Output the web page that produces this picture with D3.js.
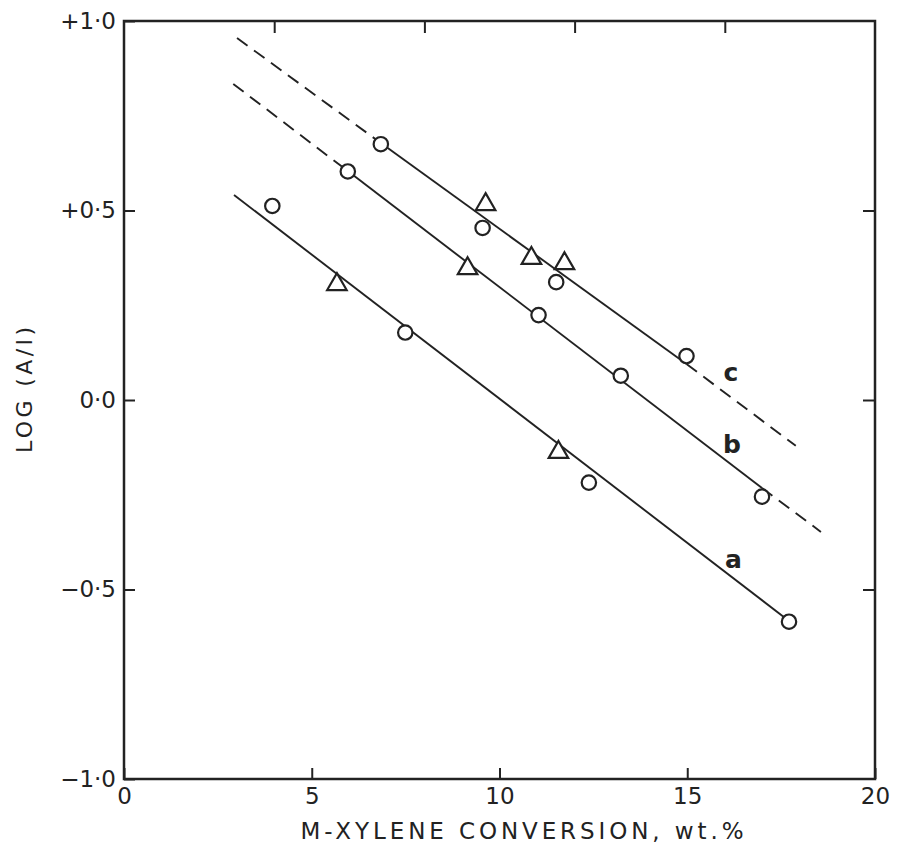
<!DOCTYPE html>
<html lang="en">
<head>
	<meta charset="utf-8">
	<style type="text/css">
		body {
			margin: 0;
			background: white;
		}
		text {
			font-family: "DejaVu Sans", sans-serif;
			fill: #222;
		}
		.tick line {
			stroke: #222;
			stroke-width: 2;
		}
	</style>
</head>
<body>
<script src="https://d3js.org/d3.v7.min.js" type="text/javascript"></script>
<script type="text/javascript">
// values
var xTicks = [0, 5, 10, 15, 20];
var xTopTicks = [4, 8, 12, 16];
var yTicks = [1, 0.5, 0, -0.5, -1];
var yRightTicks = [0.5, 0, -0.5];

// series a
var aCircleX = [3.95, 7.49, 12.38, 17.71];
var aCircleY = [0.512, 0.178, -0.218, -0.585];
var aTriX = [5.67, 11.57];
var aTriY = [0.305, -0.138];
var aLineX = [2.93, 17.71];
var aLineY = [0.541, -0.583];

// series b
var bCircleX = [5.96, 11.04, 13.23, 16.99];
var bCircleY = [0.603, 0.224, 0.064, -0.255];
var bTriX = [9.15];
var bTriY = [0.347];
var bLineX = [2.91, 5.96, 16.99, 18.56];
var bLineY = [0.834, 0.604, -0.232, -0.348];

// series c
var cCircleX = [6.84, 9.55, 11.51, 14.98];
var cCircleY = [0.675, 0.454, 0.311, 0.116];
var cTriX = [9.63, 10.85, 11.73];
var cTriY = [0.516, 0.374, 0.360];
var cLineX = [3.01, 6.84, 14.98, 17.89];
var cLineY = [0.955, 0.678, 0.095, -0.121];

var curveNames = ["a", "b", "c"];
var curveLabelX = [16.23, 16.19, 16.16];
var curveLabelY = [-0.443, -0.140, 0.050];

var width = 898, height = 849;
var ink = "#222";

var svg = d3.select("body")
	.append("svg")
	.attr("width", width)
	.attr("height", height);

var x = d3.scaleLinear().domain([0, 20]).range([124, 875]);
var y = d3.scaleLinear().domain([-1, 1]).range([779, 21]);

function fmt(v) {
	var s = Math.abs(v).toFixed(1).replace(".", "\u00b7");
	if (v > 0) return "+" + s;
	if (v < 0) return "\u2212" + s;
	return s;
}

// axes (ticks point inwards)
var gx = svg.append("g")
	.attr("transform", "translate(0," + y(-1) + ")")
	.call(d3.axisBottom(x).tickValues(xTicks).tickSizeInner(-11).tickSizeOuter(0).tickPadding(9).tickFormat(d3.format("d")));
gx.selectAll("text").style("font-size", "23px");

var gxt = svg.append("g")
	.attr("transform", "translate(0," + y(1) + ")")
	.call(d3.axisTop(x).tickValues(xTopTicks).tickSizeInner(-12).tickSizeOuter(0).tickFormat(""));

var gy = svg.append("g")
	.attr("transform", "translate(" + x(0) + ",0)")
	.call(d3.axisLeft(y).tickValues(yTicks).tickSizeInner(-11).tickSizeOuter(0).tickPadding(8).tickFormat(fmt));
gy.selectAll("text").style("font-size", "23px");

var gyr = svg.append("g")
	.attr("transform", "translate(" + x(20) + ",0)")
	.call(d3.axisRight(y).tickValues(yRightTicks).tickSizeInner(-12).tickSizeOuter(0).tickFormat(""));

svg.selectAll(".domain").remove();

// frame
svg.append("rect")
	.attr("x", x(0))
	.attr("y", y(1))
	.attr("width", x(20) - x(0))
	.attr("height", y(-1) - y(1))
	.attr("fill", "none")
	.attr("stroke", ink)
	.attr("stroke-width", 2.5);

// axis titles
svg.append("text")
	.attr("x", 522)
	.attr("y", 839)
	.attr("text-anchor", "middle")
	.attr("textLength", 443)
	.attr("lengthAdjust", "spacing")
	.style("font-size", "23px")
	.text("M-XYLENE  CONVERSION, wt.%");

svg.append("text")
	.attr("transform", "translate(32,390) rotate(-90)")
	.attr("text-anchor", "middle")
	.attr("textLength", 126)
	.attr("lengthAdjust", "spacing")
	.style("font-size", "22px")
	.text("LOG (A/I)");

// fitted lines: dashed where extrapolated
var line = d3.line()
	.x(function (d) {return x(d[0]);})
	.y(function (d) {return y(d[1]);});

function drawLine(xs, ys) {
	for (var i = 0; i < xs.length - 1; i++) {
		var dashed = xs.length > 2 && i !== 1;
		svg.append("path")
			.attr("d", line([[xs[i], ys[i]], [xs[i + 1], ys[i + 1]]]))
			.attr("fill", "none")
			.attr("stroke", ink)
			.attr("stroke-width", 1.9)
			.attr("stroke-dasharray", dashed ? "13,8" : null);
	}
}
drawLine(aLineX, aLineY);
drawLine(bLineX, bLineY);
drawLine(cLineX, cLineY);

// markers
function drawCircles(xs, ys) {
	svg.append("g")
		.selectAll("circle")
		.data(d3.zip(xs, ys))
		.enter()
		.append("circle")
		.attr("cx", function (d) {return x(d[0]);})
		.attr("cy", function (d) {return y(d[1]);})
		.attr("r", 7.2)
		.attr("fill", "white")
		.attr("stroke", ink)
		.attr("stroke-width", 2.2);
}

var tri = d3.symbol().type(d3.symbolTriangle).size(165);
function drawTriangles(xs, ys) {
	svg.append("g")
		.selectAll("path")
		.data(d3.zip(xs, ys))
		.enter()
		.append("path")
		.attr("d", tri)
		.attr("transform", function (d) {return "translate(" + x(d[0]) + "," + y(d[1]) + ")";})
		.attr("fill", "white")
		.attr("stroke", ink)
		.attr("stroke-width", 2.2)
		.attr("stroke-linejoin", "miter");
}

drawCircles(aCircleX, aCircleY);
drawTriangles(aTriX, aTriY);
drawCircles(bCircleX, bCircleY);
drawTriangles(bTriX, bTriY);
drawCircles(cCircleX, cCircleY);
drawTriangles(cTriX, cTriY);

// curve letters
svg.append("g")
	.selectAll("text")
	.data(curveNames)
	.enter()
	.append("text")
	.attr("x", function (d, i) {return x(curveLabelX[i]);})
	.attr("y", function (d, i) {return y(curveLabelY[i]);})
	.attr("text-anchor", "middle")
	.style("font-size", "25px")
	.style("font-weight", "bold")
	.text(function (d) {return d;});
</script>
</body>
</html>
